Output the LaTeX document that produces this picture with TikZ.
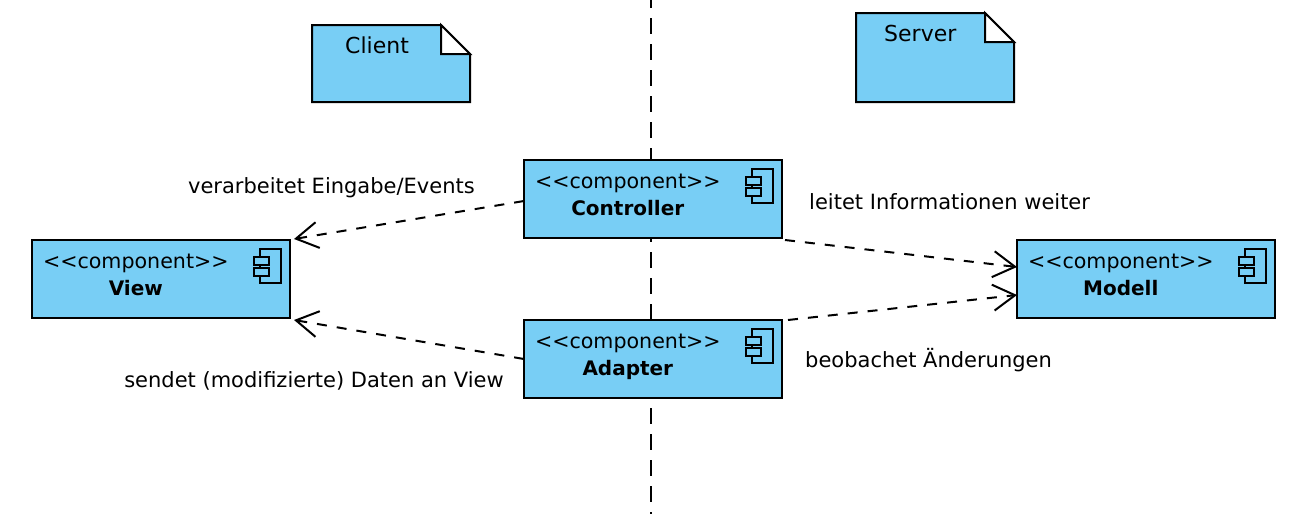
\documentclass[tikz,border=0pt]{standalone}
\usepackage{fontspec}
\setmainfont{DejaVu Sans}
\usepackage{tikz}
\usetikzlibrary{arrows.meta, positioning, calc}
\definecolor{boxblue}{HTML}{78CEF5}
\newcommand{\stereotext}[1]{\begin{tabular}{@{}c@{}}<{}<component>{}>\\ {\fontsize{20}{27}\selectfont\textbf{#1}}\\[5pt]\end{tabular}}
\newcommand{\noteshape}[1]{%
    \draw[noteline, fill=boxblue] (#1.north west) -- ($(#1.north east)+(-29,0)$) -- ($(#1.north east)+(0,-29)$) -- (#1.south east) -- (#1.south west) -- cycle;
    \draw[noteline, fill=white] ($(#1.north east)+(-29,0)$) -- ($(#1.north east)+(0,-29)$) -- ($(#1.north east)+(-29,-29)$) -- cycle;}
\newcommand{\compicon}[1]{%
    \draw[iconline] ($(#1.north east)+(-30,-9)$) rectangle ($(#1.north east)+(-9,-43)$);
    \draw[iconline, fill=boxblue] ($(#1.north east)+(-36,-17)$) rectangle ($(#1.north east)+(-21,-25)$);
    \draw[iconline, fill=boxblue] ($(#1.north east)+(-36,-28)$) rectangle ($(#1.north east)+(-21,-36)$);}
\begin{document}
\begin{tikzpicture}[
    x=1pt, y=1pt,
    % Styles
    compbox/.style={rectangle, draw=black, fill=boxblue, line width=2pt, outer sep=0pt, inner sep=0pt, minimum width=258pt, minimum height=78pt, text width=236pt, align=left, font=\fontsize{20.6}{27}\selectfont},
    notebox/.style={rectangle, outer sep=0pt, inner sep=0pt, minimum width=158pt},
    notetext/.style={font=\fontsize{22}{26}\selectfont, inner sep=0pt},
    noteline/.style={draw=black, line width=2pt, line join=miter},
    iconline/.style={draw=black, line width=2pt},
    arrowlabel/.style={font=\fontsize{21}{24}\selectfont, inner sep=0pt},
    deparrow/.style={-{Straight Barb[length=22pt, width=26pt]}, line width=2pt, dash pattern=on 10pt off 10pt},
    splitline/.style={line width=2pt, dash pattern=on 16pt off 10pt, dash phase=8pt}
]
    \useasboundingbox (0,0) rectangle (1300,-514);

    % Divider behind the boxes
    \coordinate (splittop) at (651,0);
    \coordinate (splitbottom) at (651,-514);
    \draw[splitline] (splittop) -- (splitbottom);

    % Components
    \node[compbox] at (161,-279) (view) {\stereotext{View}};
    \node[compbox, above right=2pt and 234pt of view] (controller) {\stereotext{Controller}};
    \node[compbox, below right=2pt and 234pt of view] (adapter) {\stereotext{Adapter}};
    \node[compbox, right=727pt of view] (modell) {\stereotext{Modell}};
    \compicon{view}
    \compicon{controller}
    \compicon{adapter}
    \compicon{modell}

    % Notes
    \node[notebox, minimum height=77pt] at (391,-63.5) (client) {};
    \node[notebox, minimum height=89pt] at (935,-57.5) (server) {};
    \noteshape{client}
    \noteshape{server}
    \node[notetext, anchor=base west] at ($(client.north west)+(33,-28)$) (clienttext) {Client};
    \node[notetext, anchor=base west] at ($(server.north west)+(28,-28)$) (servertext) {Server};

    % Arrows
    \draw[deparrow] ($(controller.west)+(0,-2)$) -- ($(view.north east)+(4,1)$);
    \draw[deparrow] (adapter.west) -- ($(view.south east)+(4,-2)$);
    \draw[deparrow] ($(controller.south east)+(3,-2)$) -- ($(modell.west)+(0,12)$);
    \draw[deparrow] ($(adapter.north east)+(6,0)$) -- ($(modell.west)+(0,-16)$);

    % Labels
    \node[arrowlabel, anchor=base east] at ($(controller.north west)+(-49,-33)$) (eventlabel) {verarbeitet Eingabe/Events};
    \node[arrowlabel, anchor=base west] at ($(controller.north east)+(27,-49)$) (infolabel) {leitet Informationen weiter};
    \node[arrowlabel, anchor=base east] at ($(adapter.south west)+(-20,11)$) (datalabel) {sendet (modifizierte) Daten an View};
    \node[arrowlabel, anchor=base west] at ($(adapter.south east)+(23,31)$) (changelabel) {beobachet Änderungen};
\end{tikzpicture}
\end{document}
